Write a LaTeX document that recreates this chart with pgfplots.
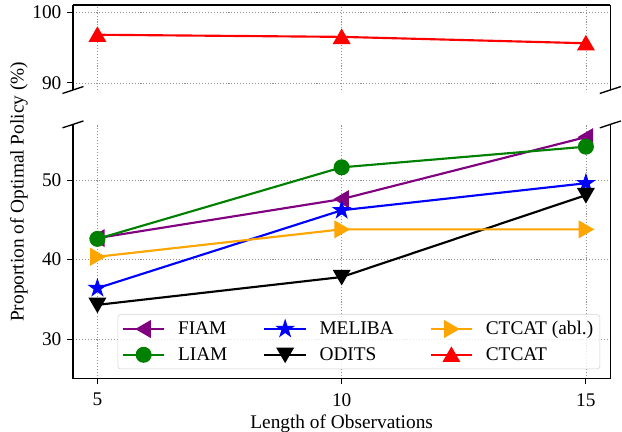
\documentclass[border=0pt]{standalone}
\usepackage{pgfplots}
\pgfplotsset{compat=1.18}
\usepackage{fontspec}
\setmainfont{Liberation Serif}
\usetikzlibrary{calc}

\definecolor{mplpurple}{RGB}{128,0,128}
\definecolor{mplgreen}{RGB}{0,128,0}
\definecolor{mplorange}{RGB}{255,165,0}

% filled five-point star, like matplotlib's '*'
\pgfdeclareplotmark{fstar}{%
  \pgfpathmoveto{\pgfpointpolar{90}{\pgfplotmarksize}}%
  \pgfpathlineto{\pgfpointpolar{126}{0.382\pgfplotmarksize}}%
  \pgfpathlineto{\pgfpointpolar{162}{\pgfplotmarksize}}%
  \pgfpathlineto{\pgfpointpolar{198}{0.382\pgfplotmarksize}}%
  \pgfpathlineto{\pgfpointpolar{234}{\pgfplotmarksize}}%
  \pgfpathlineto{\pgfpointpolar{270}{0.382\pgfplotmarksize}}%
  \pgfpathlineto{\pgfpointpolar{306}{\pgfplotmarksize}}%
  \pgfpathlineto{\pgfpointpolar{342}{0.382\pgfplotmarksize}}%
  \pgfpathlineto{\pgfpointpolar{18}{\pgfplotmarksize}}%
  \pgfpathlineto{\pgfpointpolar{54}{0.382\pgfplotmarksize}}%
  \pgfpathclose\pgfusepathqfillstroke}

\newcommand{\fs}{\fontsize{14.5}{17}\selectfont}

\tikzset{gridline/.style={gray!85, line width=0.6pt, dash pattern=on 0.8pt off 1.4pt}}

\pgfplotsset{
  brk/.style={
    width=403pt, scale only axis,
    xmin=4.5, xmax=15.5, xtick={5,10,15},
    grid=major,
    grid style={gridline},
    tick align=outside, major tick length=4.2pt,
    tick style={black, line width=0.8pt},
    axis line style={-, line width=0.9pt},
    ytick pos=left,
    tick label style={font=\fs, inner sep=0pt},
    xticklabel style={anchor=north},
    yticklabel style={anchor=east},
    xticklabel shift=6.5pt,
    yticklabel shift=4.3pt,
    /pgf/number format/assume math mode=true,
  },
  fiam/.style={mplpurple, line width=1.6pt, mark=triangle*, mark size=6.2pt, mark options={rotate=90, yshift=-1.5pt}},
  liam/.style={mplgreen, line width=1.6pt, mark=*, mark size=5.2pt},
  meliba/.style={blue, line width=1.6pt, mark=fstar, mark size=5.2pt},
  odits/.style={black, line width=1.6pt, mark=triangle*, mark size=6.2pt, mark options={rotate=180, yshift=-1.5pt}},
  abl/.style={mplorange, line width=1.6pt, mark=triangle*, mark size=6.2pt, mark options={rotate=-90, yshift=-1.5pt}},
  ctcat/.style={red, line width=1.6pt, mark=triangle*, mark size=6.2pt, mark options={yshift=-1.5pt}},
}

\begin{document}
\begin{tikzpicture}
\begin{axis}[brk, name=bot,
  height=190.8pt,
  ymin=25, ymax=57, ytick={30,40,50},
  axis x line*=bottom,
  legend columns=3,
  legend cell align=left,
  legend style={at={(0.981,0.038)}, anchor=south east,
    draw=gray!35, rounded corners=2pt, fill=white, fill opacity=0.8, text opacity=1,
    font=\fs, inner sep=3pt, row sep=4pt,
    /tikz/every odd column/.append style={column sep=7.5pt},
    /tikz/every even column/.append style={column sep=25pt}},
  legend image code/.code={\draw[mark repeat=2, mark phase=2, fill opacity=1]
    plot coordinates {(0pt,0pt)(15.5pt,0pt)(31pt,0pt)};},
]
\addplot[fiam, forget plot] coordinates {(5,42.7) (10,47.6) (15,55.4)};
\addplot[liam, forget plot] coordinates {(5,42.6) (10,51.6) (15,54.2)};
\addplot[meliba, forget plot] coordinates {(5,36.4) (10,46.2) (15,49.6)};
\addplot[odits, forget plot] coordinates {(5,34.3) (10,37.8) (15,48.1)};
\addplot[abl, forget plot] coordinates {(5,40.35) (10,43.8) (15,43.8)};

\addlegendimage{fiam}
\addlegendentry{FIAM}
\addlegendimage{meliba}
\addlegendentry{MELIBA}
\addlegendimage{abl}
\addlegendentry{CTCAT (abl.)}
\addlegendimage{liam}
\addlegendentry{LIAM}
\addlegendimage{odits}
\addlegendentry{ODITS}
\addlegendimage{ctcat}
\addlegendentry{CTCAT}
\end{axis}

\begin{axis}[brk, name=top,
  at={($(bot.north west)+(0,25.8pt)$)}, anchor=south west,
  height=63.75pt,
  ymin=89, ymax=101, ytick={90,100},
  axis x line*=top,
  xticklabels={}, xmajorticks=false, xmajorgrids=false,
]
% vertical grid lines of the upper panel (its x ticks are hidden)
\draw[gridline] (axis cs:5,89) -- (axis cs:5,101);
\draw[gridline] (axis cs:10,89) -- (axis cs:10,101);
\draw[gridline] (axis cs:15,89) -- (axis cs:15,101);
\addplot[ctcat] coordinates {(5,96.8) (10,96.5) (15,95.6)};
\end{axis}

% break marks
\draw[line width=1pt] ([shift={(-7.9pt,-2.6pt)}]top.south west) -- ++(15.8pt,5.2pt);
\draw[line width=1pt] ([shift={(-7.9pt,-2.6pt)}]top.south east) -- ++(15.8pt,5.2pt);
\draw[line width=1pt] ([shift={(-7.9pt,-2.6pt)}]bot.north west) -- ++(15.8pt,5.2pt);
\draw[line width=1pt] ([shift={(-7.9pt,-2.6pt)}]bot.north east) -- ++(15.8pt,5.2pt);

\node[font=\fs, anchor=base] at ($(bot.south)+(0,-37pt)$) {Length of Observations};
\node[rotate=90, font=\fs, inner sep=0pt]
  at ($(bot.south west)!0.5!(top.north west)+(-40.5pt,0)$)
  {Proportion of Optimal Policy (\%)};

\pgfresetboundingbox
\path ($(bot.south west)+(-54.75pt,-39.2pt)$) rectangle ($(top.north west)+(411.75pt,3.75pt)$);
\end{tikzpicture}
\end{document}
